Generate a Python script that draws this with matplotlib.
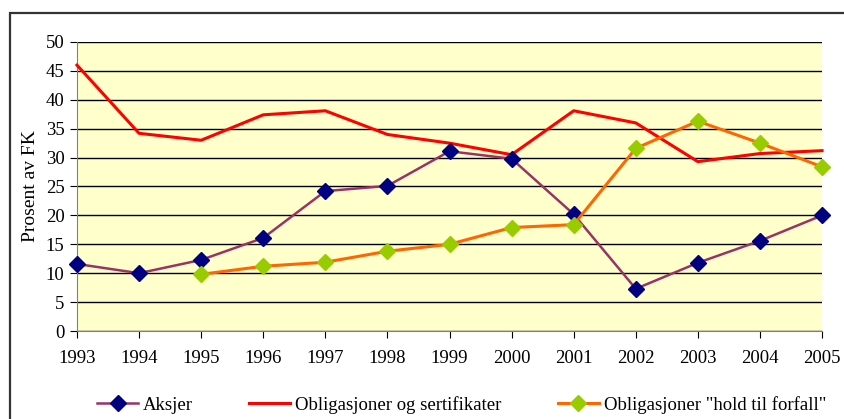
import numpy as np
import matplotlib.pyplot as plt
import matplotlib.patches as mpatches

# %% Data

years = [1993, 1994, 1995, 1996, 1997, 1998, 1999, 2000, 2001, 2002, 2003, 2004, 2005]
aksjer = [11.6, 10.0, 12.3, 16.1, 24.2, 25.1, 31.1, 29.8, 20.2, 7.3, 11.8, 15.6, 20.0]
oblig_sert = [46.0, 34.2, 33.0, 37.4, 38.1, 34.0, 32.5, 30.5, 38.1, 36.0, 29.3, 30.7, 31.2]
htf_years = [1995, 1996, 1997, 1998, 1999, 2000, 2001, 2002, 2003, 2004, 2005]
hold_til_forfall = [9.8, 11.2, 11.9, 13.8, 15.0, 17.9, 18.4, 31.6, 36.3, 32.5, 28.4]

labels = ['Aksjer', 'Obligasjoner og sertifikater', 'Obligasjoner "hold til forfall"']

# %% Plot

plt.rcParams['font.family'] = ['Liberation Serif', 'DejaVu Serif']

fig = plt.figure(figsize=(8.44, 4.19), dpi=100)
ax = fig.add_axes([0.0912, 0.21, 0.974 - 0.0912, 0.8998 - 0.21])

# outer frame
frame = mpatches.Rectangle((10 / 844, -0.1), 1.0, 1 - 13 / 419 + 0.1, transform=fig.transFigure,
                           fill=False, edgecolor='#333333', linewidth=1.6, clip_on=False)
fig.patches.append(frame)

ax.set_facecolor('#FFFFCC')

l1, = ax.plot(years, aksjer, color='#993366', lw=1.8, marker='D', ms=8,
              mfc='#000080', mec='#000080', label=labels[0], clip_on=False, zorder=4)
l2, = ax.plot(years, oblig_sert, color='#FF0000', lw=2.2, label=labels[1], clip_on=False, zorder=3)
l3, = ax.plot(htf_years, hold_til_forfall, color='#FF6600', lw=2.2, marker='D', ms=8,
              mfc='#99CC00', mec='#99CC00', label=labels[2], clip_on=False, zorder=4)

ax.set_xlim(1993, 2005)
ax.set_ylim(0, 50)
ax.set_xticks(years)
ax.set_yticks(np.arange(0, 51, 5))
ax.yaxis.grid(True, color='black', lw=1.0)
ax.set_axisbelow(True)
for s in ['top', 'right']:
    ax.spines[s].set_visible(False)
ax.spines['left'].set_color('#808080')
ax.spines['bottom'].set_color('#808080')
ax.tick_params(axis='both', direction='out', length=5, color='black', labelsize=13.5, pad=4)
ax.tick_params(axis='x', pad=9)
ax.set_ylabel('Prosent av FK', fontsize=14, labelpad=5)

fig.legend(handles=[l1, l2, l3], loc='center left', bbox_to_anchor=(97 / 844, 0.034), ncol=3,
           frameon=False, fontsize=13.5, columnspacing=3.0, handlelength=2.2, handletextpad=0.25,
           borderpad=0, borderaxespad=0)

plt.savefig('out.png', dpi=100)
